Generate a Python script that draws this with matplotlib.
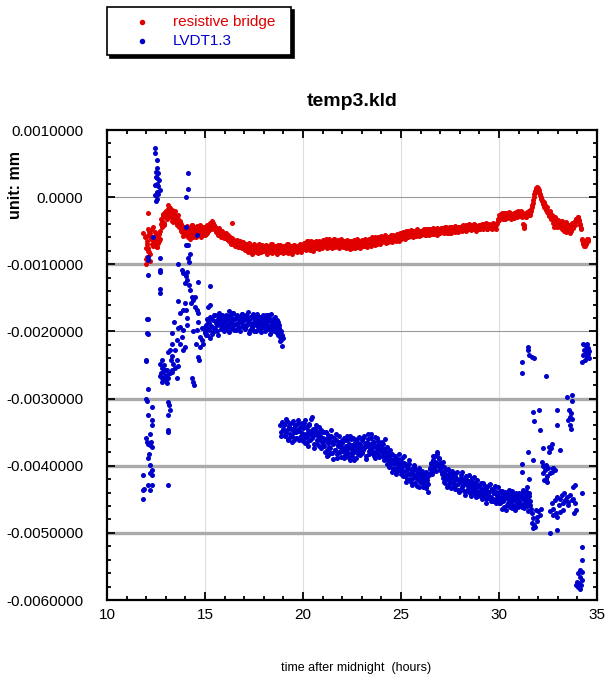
import numpy as np
import matplotlib.pyplot as plt

plt.rcParams['font.family'] = ['Liberation Sans', 'DejaVu Sans']

# logger sample spacing in hours; readings are stored in units of 1e-5 mm
dt = 0.05
scale = 1e-5

# resistive bridge, one row per hour; even samples start at 12.000 h, odd ones at 12.025 h
bridge_t0 = 12.0
bridge = [
    -92, -58, -75, -50, -85, -62, -70, -45, -66, -58, -72, -60, -68, -55, -62, -40, -35, -28, -42, -30,   # 12
    -25, -32, -18, -14, -28, -22, -35, -26, -30, -20, -33, -38, -27, -42, -36, -48, -40, -52, -45, -55,   # 13
    -48, -56, -44, -58, -50, -46, -54, -42, -60, -49, -53, -45, -57, -47, -51, -55, -44, -50, -56, -48,   # 14
    -50, -46, -53, -44, -49, -42, -47, -40, -38, -42, -45, -50, -47, -53, -49, -55, -51, -57, -53, -58,   # 15
    -55, -61, -58, -64, -60, -66, -62, -68, -63, -70, -65, -67, -71, -66, -72, -68, -74, -69, -73, -70,   # 16
    -72, -77, -70, -79, -74, -68, -76, -80, -73, -78, -71, -75, -81, -74, -77, -70, -79, -73, -76, -80,   # 17
    -74, -78, -71, -80, -76, -73, -82, -75, -70, -78, -74, -79, -72, -77, -81, -74, -76, -71, -79, -75,   # 18
    -77, -72, -80, -74, -78, -70, -76, -81, -73, -75, -79, -71, -77, -74, -80, -72, -76, -78, -73, -75,   # 19
    -73, -68, -76, -70, -74, -66, -72, -69, -75, -71, -67, -73, -70, -76, -68, -72, -65, -71, -74, -69,   # 20
    -70, -66, -73, -68, -64, -71, -67, -74, -69, -65, -72, -68, -63, -70, -66, -73, -69, -67, -71, -65,   # 21
    -68, -72, -65, -70, -74, -67, -71, -66, -73, -69, -75, -68, -72, -66, -70, -74, -69, -71, -67, -73,   # 22
    -70, -66, -72, -68, -64, -71, -67, -62, -69, -65, -70, -63, -67, -60, -66, -64, -68, -61, -65, -63,   # 23
    -62, -66, -60, -64, -58, -65, -61, -67, -59, -63, -60, -64, -57, -62, -59, -63, -56, -61, -58, -60,   # 24
    -58, -54, -60, -56, -52, -58, -55, -50, -57, -53, -56, -51, -55, -52, -57, -50, -54, -56, -51, -53,   # 25
    -52, -55, -49, -53, -51, -56, -48, -52, -54, -50, -47, -53, -49, -51, -55, -48, -52, -46, -50, -53,   # 26
    -49, -51, -46, -50, -48, -52, -45, -49, -47, -51, -44, -48, -50, -46, -49, -43, -47, -50, -45, -48,   # 27
    -45, -48, -43, -47, -44, -49, -42, -46, -45, -43, -48, -41, -46, -44, -47, -42, -45, -48, -43, -46,   # 28
    -44, -41, -46, -43, -45, -40, -44, -42, -47, -43, -41, -45, -42, -44, -40, -43, -45, -41, -38, -36,   # 29
    -32, -28, -25, -30, -27, -24, -29, -26, -31, -25, -28, -23, -27, -30, -26, -24, -29, -22, -27, -25,   # 30
    -23, -26, -21, -28, -24, -44, -42, -27, -30, -22, -25, -20, -24, -18, -12, -4, 4, 9, 14, 12,          # 31
    13, 8, 3, -2, -6, -10, -14, -12, -18, -22, -20, -26, -24, -30, -28, -33, -45, -30, -36, -40,          # 32
    -34, -40, -38, -44, -36, -42, -47, -39, -52, -45, -41, -48, -43, -50, -38, -46, -44, -40, -36, -33,   # 33
    -33, -30, -36, -42, -48, -64, -70, -66, -72, -68, -65, -62,                                           # 34
]
bridge_odd_t0 = 12.025
bridge_odd = [
    -65, -80, -55, -95, -60, -48, -73, -64, -52, -68, -61, -74, -57, -65, -50, -33, -44, -25, -38, -22,   # 12
    -20, -27, -12, -22, -16, -30, -19, -37, -24, -34, -28, -41, -32, -45, -38, -50, -43, -58, -49, -53,   # 13
    -52, -43, -59, -47, -62, -53, -41, -57, -46, -51, -59, -43, -55, -50, -42, -60, -47, -53, -45, -57,   # 14
    -45, -55, -41, -51, -46, -39, -44, -36, -41, -47, -44, -52, -49, -56, -46, -54, -59, -50, -56, -61,   # 15
    -59, -54, -62, -57, -65, -59, -70, -61, -67, -64, -72, -69, -64, -74, -70, -66, -71, -76, -67, -75,   # 16
    -78, -69, -75, -82, -70, -77, -72, -84, -75, -69, -80, -76, -72, -79, -83, -73, -76, -82, -71, -77,   # 17
    -80, -72, -77, -84, -73, -79, -76, -70, -83, -77, -72, -81, -75, -84, -71, -78, -82, -74, -77, -83,   # 18
    -72, -81, -76, -70, -83, -75, -79, -72, -84, -78, -71, -80, -75, -82, -73, -79, -70, -81, -77, -72,   # 19
    -77, -70, -73, -79, -65, -75, -70, -78, -66, -74, -80, -69, -76, -65, -73, -71, -77, -67, -69, -75,   # 20
    -64, -72, -70, -62, -75, -68, -63, -71, -66, -76, -70, -62, -74, -67, -71, -64, -75, -70, -63, -72,   # 21
    -74, -66, -70, -76, -64, -72, -69, -77, -65, -72, -67, -74, -64, -76, -68, -63, -73, -66, -75, -69,   # 22
    -64, -73, -68, -62, -70, -74, -65, -70, -63, -72, -60, -68, -65, -71, -63, -69, -59, -66, -70, -58,   # 23
    -67, -61, -65, -57, -68, -62, -59, -66, -62, -56, -67, -61, -64, -58, -66, -55, -62, -65, -54, -63,   # 24
    -55, -61, -52, -58, -62, -51, -57, -60, -53, -58, -49, -56, -59, -50, -54, -58, -48, -55, -58, -50,   # 25
    -56, -50, -54, -47, -57, -52, -55, -48, -57, -53, -50, -55, -46, -54, -51, -48, -56, -50, -47, -54,   # 26
    -46, -52, -49, -54, -45, -50, -53, -47, -53, -45, -50, -53, -45, -51, -47, -52, -44, -49, -52, -44,   # 27
    -49, -44, -50, -41, -47, -45, -50, -43, -48, -40, -46, -49, -43, -48, -40, -47, -50, -44, -47, -41,   # 28
    -47, -43, -40, -47, -42, -46, -39, -47, -44, -40, -46, -43, -47, -39, -45, -42, -47, -38, -33, -34,   # 29
    -27, -31, -29, -23, -32, -28, -33, -24, -27, -30, -22, -29, -32, -25, -28, -31, -24, -27, -30, -21,   # 30
    -28, -22, -26, -30, -40, -46, -25, -29, -24, -27, -21, -27, -20, -15, -8, 0, 6, 11, 15, 10,           # 31
    10, 5, 0, -4, -9, -7, -16, -19, -15, -24, -22, -28, -21, -32, -26, -38, -35, -42, -33, -44,           # 32
    -38, -35, -45, -40, -48, -42, -51, -44, -37, -49, -46, -42, -53, -47, -41, -44, -38, -42, -32, -35,   # 33
    -29, -34, -40, -46, -62, -68, -73, -65, -70, -63, -66,                                                # 34
]
bridge_extra = [
    (11.85, -54), (11.93, -59), (12.02, -69), (11.99, -76), (12.11, -47), (12.06, -89),
    (11.99, -99), (12.11, -24), (12.19, -54), (12.16, -81), (12.45, -64), (12.57, -74),
    (16.36, -39),
]

# LVDT1.3, first steady stretch from 15.00 h
lvdt_a_t0 = 15.0
lvdt_a = [
    -200, -190, -206, -185, -198, -178, -192, -204, -183, -195, -176, -188, -199, -181, -172, -190, -185, -178, -194, -182,   # 15
    -186, -175, -192, -180, -170, -188, -196, -178, -185, -172, -190, -182, -198, -176, -187, -193, -179, -184, -174, -191,   # 16
    -183, -195, -178, -189, -171, -186, -198, -180, -192, -175, -188, -184, -200, -177, -190, -182, -196, -186, -179, -193,   # 17
    -188, -180, -197, -185, -176, -192, -184, -199, -187, -181, -194, -178, -190, -203, -186, -195, -200, -208, -212, -205,   # 18
]
lvdt_a_odd_t0 = 15.025
lvdt_a_odd = [
    -193, -205, -182, -197, -188, -210, -180, -194, -201, -176, -196, -184, -191, -206, -179, -187, -197, -175, -189, -199,   # 15
    -178, -196, -183, -190, -201, -176, -186, -193, -173, -198, -180, -189, -177, -195, -181, -200, -186, -174, -194, -180,   # 16
    -197, -176, -190, -183, -202, -178, -189, -195, -174, -186, -199, -180, -191, -174, -197, -186, -178, -201, -190, -176,   # 17
    -181, -199, -176, -190, -196, -180, -204, -174, -194, -186, -200, -188, -197, -183, -206, -190, -214, -199, -222, -210,   # 18
]

# LVDT1.3, second stretch from 19.00 h
lvdt_b_t0 = 19.0
lvdt_b = [
    -345, -338, -356, -349, -333, -360, -342, -352, -337, -355, -346, -362, -340, -350, -358, -336, -348, -343, -357, -351,   # 19
    -344, -358, -332, -353, -365, -347, -340, -361, -350, -327, -356, -368, -345, -352, -362, -349, -370, -356, -347, -364,   # 20
    -358, -371, -362, -350, -377, -366, -384, -360, -373, -355, -381, -368, -363, -376, -352, -389, -370, -365, -380, -372,   # 21
    -366, -378, -359, -384, -370, -362, -387, -374, -356, -381, -369, -377, -392, -364, -375, -360, -383, -371, -367, -379,   # 22
    -362, -376, -355, -370, -385, -366, -352, -378, -368, -359, -381, -372, -364, -389, -370, -358, -376, -382, -367, -374,   # 23
    -373, -386, -368, -392, -378, -384, -397, -380, -402, -388, -395, -410, -392, -404, -386, -413, -398, -390, -407, -401,   # 24
    -394, -409, -401, -386, -415, -398, -420, -405, -392, -412, -424, -408, -418, -402, -426, -414, -420, -410, -432, -419,   # 25
    -412, -425, -418, -428, -416, -410, -430, -421, -439, -414, -405, -398, -410, -392, -402, -386, -396, -382, -400, -390,   # 26
    -404, -396, -410, -418, -402, -425, -414, -420, -430, -412, -426, -418, -408, -432, -422, -415, -428, -419, -436, -421,   # 27
    -424, -414, -431, -420, -438, -425, -416, -429, -434, -422, -440, -427, -418, -435, -430, -442, -426, -437, -432, -445,   # 28
    -428, -438, -433, -446, -425, -440, -436, -450, -431, -444, -439, -427, -447, -435, -452, -441, -437, -449, -444, -453,   # 29
    -440, -455, -446, -438, -452, -462, -445, -441, -458, -449, -436, -454, -447, -463, -442, -451, -445, -460, -448, -443,   # 30
    -452, -444, -458, -440, -450, -463, -446, -455, -438, -449, -468, -445, -453,                                           # 31
]
lvdt_b_odd_t0 = 19.025
lvdt_b_odd = [
    -340, -354, -330, -347, -361, -339, -357, -345, -364, -334, -350, -341, -359, -347, -332, -361, -344, -355, -336, -363,   # 19
    -352, -337, -366, -343, -357, -371, -338, -353, -330, -359, -346, -374, -351, -340, -368, -355, -343, -362, -373, -350,   # 20
    -367, -350, -379, -360, -386, -354, -372, -381, -347, -365, -390, -358, -376, -361, -383, -368, -356, -378, -387, -361,   # 21
    -374, -389, -362, -376, -355, -381, -368, -391, -360, -373, -385, -358, -379, -370, -388, -365, -376, -357, -384, -372,   # 22
    -381, -358, -374, -366, -390, -371, -360, -383, -375, -352, -378, -365, -386, -357, -380, -372, -363, -387, -369, -378,   # 23
    -364, -380, -375, -360, -387, -372, -391, -385, -376, -398, -383, -405, -396, -388, -410, -394, -404, -383, -399, -412,   # 24
    -405, -388, -416, -396, -408, -424, -402, -413, -397, -419, -405, -428, -412, -399, -417, -407, -430, -415, -404, -424,   # 25
    -420, -408, -431, -414, -422, -433, -417, -427, -412, -404, -396, -412, -386, -404, -394, -408, -380, -398, -389, -406,   # 26
    -399, -412, -395, -424, -408, -416, -431, -405, -418, -424, -409, -433, -414, -425, -411, -434, -420, -410, -427, -439,   # 27
    -419, -434, -410, -428, -423, -443, -419, -437, -425, -414, -433, -445, -422, -438, -417, -431, -447, -421, -439, -428,   # 28
    -441, -426, -449, -436, -443, -430, -455, -438, -448, -429, -446, -453, -434, -449, -440, -430, -455, -443, -432, -448,   # 29
    -456, -437, -449, -465, -441, -450, -439, -466, -446, -456, -442, -461, -452, -437, -458, -448, -466, -440, -455, -462,   # 30
    -441, -456, -447, -462, -436, -457, -449, -443, -460, -452, -441, -458,                                                 # 31
]

# LVDT1.3 readings while the sensor was unsettled (start-up and end of run)
lvdt_start = [
    (12.45, 73), (12.45, 66), (12.53, 56), (12.57, 43), (12.50, 38), (12.62, 36), (12.53, 28),
    (12.67, 26), (12.45, 18), (12.62, 16), (12.70, 11), (12.53, 8), (12.45, 3), (12.57, -2),
    (12.50, -5), (12.50, 30), (12.57, 20), (12.62, 5),
    (12.36, -59), (12.07, -89), (12.11, -94), (12.07, -116),
    (12.70, -91), (12.70, -109), (12.70, -111), (12.70, -137), (12.70, -143),
    (12.02, -181), (12.11, -182), (12.02, -203), (12.07, -204), (11.99, -242), (11.99, -244),
    (12.07, -285), (11.99, -301), (12.02, -303), (12.07, -325), (12.28, -312), (12.28, -332),
    (12.28, -339), (12.19, -353), (11.99, -359), (12.02, -364), (12.11, -367), (12.19, -369),
    (12.23, -364), (12.28, -372), (12.16, -382), (12.11, -389), (12.19, -399), (12.28, -406),
    (12.28, -414), (12.19, -411), (11.85, -414), (12.11, -429), (12.28, -429), (12.19, -436),
    (11.85, -436), (11.89, -434), (11.85, -450),
    (12.70, -248), (12.79, -254), (12.87, -260), (12.96, -267), (13.04, -265), (13.13, -270),
    (12.79, -270), (12.96, -257), (13.21, -262), (13.04, -277), (12.87, -271), (13.30, -260),
    (12.70, -267), (12.79, -242), (13.13, -230), (13.21, -228), (13.30, -237), (13.25, -243),
    (13.38, -248), (13.30, -257), (13.47, -255), (12.75, -262), (12.92, -250), (13.00, -272),
    (13.08, -258), (12.83, -276),
    (13.13, -305), (13.18, -310), (13.21, -317), (13.13, -325), (13.13, -347), (13.10, -349),
    (13.13, -429),
    (13.30, -218), (13.30, -202), (13.42, -186), (13.47, -228), (13.55, -213), (13.59, -243),
    (13.64, -252), (13.55, -270), (13.64, -195), (13.72, -173), (13.72, -218), (13.81, -208),
    (13.86, -228), (13.89, -198), (13.98, -223), (13.89, -168), (14.06, -180), (14.03, -168),
    (13.98, -158), (14.10, -190), (13.64, -155), (13.72, -193),
    (14.15, 36), (14.15, 12), (14.03, 1), (14.03, -44), (14.03, -71),
    (13.64, -99), (13.81, -109), (13.89, -113), (14.03, -118), (14.10, -123), (13.98, -128),
    (14.20, -131), (14.23, -138), (14.32, -148), (14.27, -158), (14.40, -153), (14.49, -163),
    (14.57, -168), (14.23, -84), (14.15, -91), (14.20, -96), (14.66, -126), (14.06, -111),
    (14.49, -148), (14.63, -173), (14.15, -71), (14.57, -56),
    (14.32, -270), (14.37, -275), (14.44, -280), (14.66, -238), (14.71, -243),
    (14.40, -200), (14.57, -198), (14.74, -208), (14.83, -195), (14.91, -218), (15.00, -203),
    (15.05, -193), (14.54, -218), (14.74, -223), (14.83, -213), (14.66, -186),
    (15.26, -133), (15.26, -161), (15.17, -163),
    (18.85, -340), (18.90, -350), (18.95, -335), (18.88, -356),
]
lvdt_end = [
    (31.50, -223), (31.50, -227), (31.55, -235), (31.67, -238), (31.79, -240), (31.16, -245),
    (31.16, -262), (32.40, -267),
    (31.75, -320), (32.06, -317), (31.79, -334), (32.09, -347), (31.50, -379), (31.75, -392),
    (31.16, -397), (31.16, -409), (31.55, -419), (31.41, -431),
    (31.62, -464), (31.68, -471), (31.75, -478), (31.67, -486), (31.84, -491), (31.92, -483),
    (32.01, -468), (32.09, -474), (31.89, -466), (31.79, -488), (31.96, -476), (31.72, -493),
    (32.13, -464),
    (32.18, -394), (32.26, -401), (32.35, -406), (32.23, -411), (32.43, -416), (32.30, -421),
    (32.40, -399), (32.52, -404), (32.60, -411), (32.69, -409), (32.77, -404), (32.86, -406),
    (32.47, -424), (32.40, -419), (32.57, -379), (32.64, -374), (32.69, -367), (32.57, -372),
    (32.23, -374), (32.98, -317), (32.98, -339), (33.11, -377), (32.74, -403),
    (32.60, -468), (32.69, -456), (32.77, -464), (32.86, -451), (32.91, -471), (32.98, -446),
    (33.04, -459), (33.11, -449), (33.20, -444), (33.25, -456), (33.32, -441), (33.37, -451),
    (33.45, -446), (33.54, -454), (33.62, -444), (33.71, -451), (33.79, -449), (33.88, -456),
    (33.93, -466), (33.83, -470), (33.76, -431), (33.88, -429), (33.54, -459), (33.28, -466),
    (33.11, -469), (32.94, -476), (32.77, -474), (32.60, -500), (32.98, -495),
    (33.49, -297), (33.71, -295), (33.71, -303), (33.59, -317), (33.66, -322), (33.62, -328),
    (33.71, -330), (33.54, -332), (33.62, -339), (33.66, -346),
    (34.22, -441),
    (34.30, -218), (34.39, -220), (34.47, -223), (34.56, -225), (34.34, -228), (34.44, -230),
    (34.56, -233), (34.30, -235), (34.47, -238), (34.61, -240), (34.22, -245), (34.39, -243),
    (34.51, -219), (34.59, -229),
    (34.22, -521), (34.22, -540), (34.13, -555), (34.22, -558), (34.05, -560), (34.13, -565),
    (34.22, -570), (34.00, -573), (34.10, -575), (34.17, -578), (34.05, -580), (34.13, -584),
    (33.93, -578),
]

yticks = [0.001, 0.0, -0.001, -0.002, -0.003, -0.004, -0.005, -0.006]
ytick_labels = ['0.0010000', '0.0000', '-0.0010000', '-0.0020000',
                '-0.0030000', '-0.0040000', '-0.0050000', '-0.0060000']
xticks = [10, 15, 20, 25, 30, 35]

red = '#e00000'
blue = '#0000cc'


def sampled(t0, values):
    t = t0 + dt * np.arange(len(values))
    return t, np.array(values) * scale


def pairs(points):
    t, y = zip(*points)
    return np.array(t), np.array(y) * scale


def join(parts):
    return (np.concatenate([p[0] for p in parts]),
            np.concatenate([p[1] for p in parts]))


bridge_t, bridge_y = join([pairs(bridge_extra),
                           sampled(bridge_t0, bridge),
                           sampled(bridge_odd_t0, bridge_odd)])
lvdt_t, lvdt_y = join([sampled(lvdt_a_t0, lvdt_a), sampled(lvdt_a_odd_t0, lvdt_a_odd),
                       sampled(lvdt_b_t0, lvdt_b), sampled(lvdt_b_odd_t0, lvdt_b_odd),
                       pairs(lvdt_start), pairs(lvdt_end)])

fig = plt.figure(figsize=(6.09, 6.78), dpi=100)
ax = fig.add_axes([0.1757, 0.1150, 0.8046, 0.6932])

# reference lines behind the data
for x in [15, 20, 25, 30]:
    ax.axvline(x, color='#dddddd', lw=0.8, zorder=0)
for y in [0.0, -0.002]:
    ax.axhline(y, color='#999999', lw=0.8, zorder=0)
for y in [-0.001, -0.003, -0.004, -0.005]:
    ax.axhline(y, color='#aaaaaa', lw=2.4, zorder=0)

ms = 13
ax.scatter(bridge_t, bridge_y, s=ms, color=red, lw=0, label='resistive bridge', zorder=2)
ax.scatter(lvdt_t, lvdt_y, s=ms, color=blue, lw=0, label='LVDT1.3', zorder=3)

ax.set_xlim(10, 35)
ax.set_ylim(-0.006, 0.001)
ax.set_xticks(xticks)
ax.set_xticks(np.arange(10, 36, 1), minor=True)
ax.set_yticks(yticks)
ax.set_yticklabels(ytick_labels)
ax.set_yticks(np.arange(-0.006, 0.0011, 0.0002), minor=True)

ax.tick_params(which='both', direction='in', top=True, right=True, width=1.3, labelsize=11)
ax.tick_params(which='major', length=5.5)
ax.tick_params(which='minor', length=3)
ax.tick_params(axis='y', pad=17)
ax.tick_params(axis='x', pad=6)
for sp in ax.spines.values():
    sp.set_linewidth(1.6)

ax.set_title('temp3.kld', fontsize=14, fontweight='bold', pad=17)
fig.text(0.025, 0.727, 'unit: mm', rotation=90, fontsize=11.5, fontweight='bold',
         ha='center', va='center')
fig.text(0.585, 0.015, 'time after midnight  (hours)', fontsize=9, ha='center', va='center')

leg = ax.legend(loc='upper left', bbox_to_anchor=(107 / 609, 1 - 8 / 678, 184 / 609, 0.001),
                bbox_transform=fig.transFigure, mode='expand', fontsize=11,
                frameon=True, fancybox=False, shadow={'color': 'black', 'alpha': 1},
                borderpad=0.5, labelspacing=0.3, handlelength=3.6, handletextpad=0.2,
                markerscale=1.1, borderaxespad=0)
leg.get_frame().set_edgecolor('black')
leg.get_frame().set_linewidth(1.2)
for text, c in zip(leg.get_texts(), [red, blue]):
    text.set_color(c)

fig.savefig('out.png', dpi=100)
